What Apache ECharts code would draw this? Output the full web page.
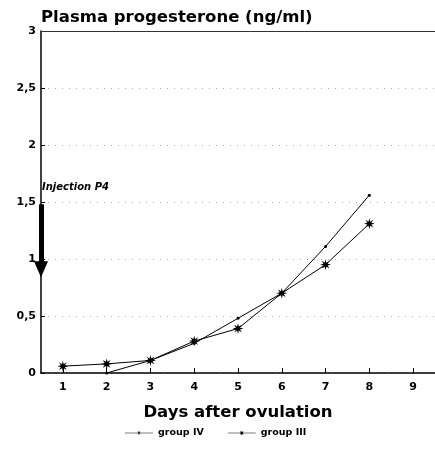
<!DOCTYPE html>
<html><head><meta charset="utf-8">
<script src="https://cdn.jsdelivr.net/npm/echarts@6/dist/echarts.min.js"></script>
<style>html,body{margin:0;padding:0;background:#fff}#c{width:435px;height:470px}</style>
</head><body><div id="c"></div>
<script>
const days = [1, 2, 3, 4, 5, 6, 7, 8, 9];
const yTicks = [0, 0.5, 1, 1.5, 2, 2.5, 3];
const groupIVDays = [2, 3, 4, 5, 6, 7, 8];
const groupIV = [0, 0.11, 0.26, 0.48, 0.70, 1.11, 1.56];
const groupIIIDays = [1, 2, 3, 4, 5, 6, 7, 8];
const groupIII = [0.06, 0.08, 0.11, 0.28, 0.39, 0.70, 0.95, 1.31];
const arrowFrom = [0.5, 1.48];
const arrowTo = [0.5, 0.91];

function starSub(cx, cy, R, r) {
  let p = '';
  for (let i = 0; i < 16; i++) {
    const a = i * Math.PI / 8 - Math.PI / 2;
    const rr = i % 2 === 0 ? R : r;
    p += (i === 0 ? 'M' : 'L') + (cx + rr * Math.cos(a)).toFixed(1) + ' ' + (cy + rr * Math.sin(a)).toFixed(1);
  }
  return p + 'Z';
}
const starPath = 'path://' + starSub(50, 50, 50, 20);
// legend icons: a line with the series' marker in the middle
const legendIV = 'path://M0 9L100 9L100 11L0 11Z' + 'M45 10A5 5 0 1 0 55 10A5 5 0 1 0 45 10Z';
const legendIII = 'path://M0 9L100 9L100 11L0 11Z' + starSub(50, 10, 10, 4);

const FONT = 'DejaVu Sans';
const chart = echarts.init(document.getElementById('c'));
chart.setOption({
  animation: false,
  title: {
    text: 'Plasma progesterone (ng/ml)', left: 36, top: 4,
    textStyle: { fontFamily: FONT, fontWeight: 'bold', fontSize: 16.5, color: '#000' }
  },
  grid: { left: 41, right: 0, top: 31, bottom: 97 },
  xAxis: {
    type: 'value', min: 0.5, max: 9.5,
    name: 'Days after ovulation', nameLocation: 'middle', nameGap: 31,
    nameTextStyle: { fontFamily: FONT, fontWeight: 'bold', fontSize: 16.5, color: '#000' },
    axisLine: { lineStyle: { color: '#000', width: 1.5 } },
    axisTick: { inside: true, length: 5, customValues: days, lineStyle: { color: '#000' } },
    axisLabel: { customValues: days, margin: 9, fontFamily: FONT, fontWeight: 'bold', fontSize: 11, color: '#000' },
    splitLine: { show: false }
  },
  yAxis: {
    type: 'value', min: 0, max: 3, interval: 0.5,
    axisLine: { show: true, lineStyle: { color: '#000', width: 1.5 } },
    axisTick: { show: true, inside: true, length: 4, lineStyle: { color: '#000' } },
    axisLabel: { margin: 5, fontFamily: FONT, fontWeight: 'bold', fontSize: 11, color: '#000',
      formatter: v => String(v).replace('.', ',') },
    splitLine: { show: true, lineStyle: { color: '#aaa', type: [1, 6], width: 1 } }
  },
  legend: {
    top: 423, left: 120, itemWidth: 28, itemHeight: 6, itemGap: 24,
    textStyle: { fontFamily: FONT, fontWeight: 'bold', fontSize: 9.5, color: '#000' },
    data: [
      { name: 'group IV', icon: legendIV, itemStyle: { color: '#000' } },
      { name: 'group III', icon: legendIII, itemStyle: { color: '#000' } }
    ]
  },
  series: [
    {
      name: 'group IV', type: 'line',
      data: groupIVDays.map((d, i) => [d, groupIV[i]]),
      symbol: 'circle', symbolSize: 3,
      lineStyle: { color: '#000', width: 1 }, itemStyle: { color: '#000' },
      markLine: {
        silent: true, symbol: 'none', label: { show: false },
        lineStyle: { color: '#333', type: 'solid', width: 1.2 },
        data: [{ yAxis: yTicks[yTicks.length - 1] }]
      }
    },
    {
      name: 'group III', type: 'line',
      data: groupIIIDays.map((d, i) => [d, groupIII[i]]),
      symbol: starPath, symbolSize: 11,
      lineStyle: { color: '#000', width: 1 }, itemStyle: { color: '#000' },
      markLine: {
        silent: true, symbol: ['none', 'triangle'], symbolSize: [14, 16], symbolRotate: 180,
        label: { show: false },
        lineStyle: { color: '#000', type: 'solid', width: 5 },
        data: [[{ coord: arrowFrom }, { coord: arrowTo }]]
      }
    }
  ],
  graphic: [{
    type: 'text', left: 42, top: 182,
    style: { text: 'Injection P4', fontFamily: FONT, fontWeight: 'bold', fontStyle: 'italic', fontSize: 10, fill: '#000' }
  }]
});
</script></body></html>
